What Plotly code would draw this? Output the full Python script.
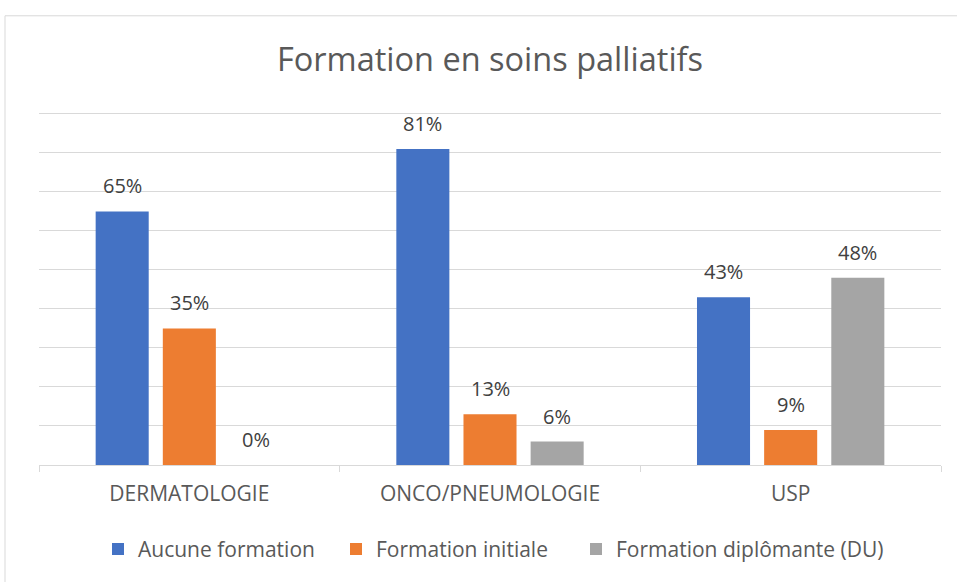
import plotly.graph_objects as go

categories = ["DERMATOLOGIE", "ONCO/PNEUMOLOGIE", "USP"]
series_names = ["Aucune formation", "Formation initiale", "Formation diplômante (DU)"]
aucune = [65, 81, 43]
initiale = [35, 13, 9]
diplomante = [0, 6, 48]
labels_aucune = ["65%", "81%", "43%"]
labels_initiale = ["35%", "13%", "9%"]
labels_diplomante = ["0%", "6%", "48%"]
colors = ["#4472C4", "#ED7D31", "#A5A5A5"]

W, H = 957, 582
ML, MR, MT, MB = 39, 16, 110, 114
BARGAP = 0.33
BARGROUPGAP = 0.21
FONT = "Open Sans"
LEGEND_LEFT_PX = [98, 336, 576]

series_vals = [aucune, initiale, diplomante]
series_labels = [labels_aucune, labels_initiale, labels_diplomante]
legend_ids = ["legend", "legend2", "legend3"]

plot_w = W - ML - MR
plot_h = H - MT - MB

fig = go.Figure()
for name, vals, col, lid in zip(series_names, series_vals, colors, legend_ids):
    fig.add_trace(go.Bar(x=categories, y=vals, name=name, legend=lid, showlegend=True,
                         marker=dict(color=col, line=dict(width=0))))

# data labels above bars, positioned through the axes
slot = plot_w / len(categories) * (1 - BARGAP) / len(series_vals)
annotations = []
for si, (vals, labs) in enumerate(zip(series_vals, series_labels)):
    for c, v, t in zip(categories, vals, labs):
        annotations.append(dict(
            x=c, y=v, xref="x", yref="y", text=t, showarrow=False,
            xanchor="center", yanchor="bottom",
            xshift=(si - 1) * slot, yshift=10,
            font=dict(family=FONT, size=20, color="#404040"),
        ))

legend_y = -(553 - (H - MB)) / plot_h
legends = {}
for lid, px in zip(legend_ids, LEGEND_LEFT_PX):
    legends[lid] = dict(orientation="h", x=(px - ML) / plot_w, xanchor="left", y=legend_y,
                        yanchor="middle", font=dict(family=FONT, size=21, color="#595959"),
                        itemwidth=30, bgcolor="rgba(0,0,0,0)", visible=True)

fig.update_layout(
    width=W, height=H,
    showlegend=True,
    margin=dict(l=ML, r=MR, t=MT, b=MB),
    paper_bgcolor="white", plot_bgcolor="white",
    barmode="group", bargap=BARGAP, bargroupgap=BARGROUPGAP,
    title=dict(text="Formation en soins palliatifs", x=0.5, xref="paper", xanchor="center",
               y=1 - 60 / H, yanchor="middle",
               font=dict(family=FONT, size=32.5, color="#595959")),
    font=dict(family=FONT, size=21, color="#595959"),
    xaxis=dict(showline=True, linecolor="#D9D9D9", linewidth=1, ticks="outside",
               tickson="boundaries", ticklen=6, tickcolor="#D9D9D9", showgrid=False,
               ticklabelstandoff=10,
               tickfont=dict(family=FONT, size=21, color="#595959")),
    yaxis=dict(range=[0, 91], tick0=0, dtick=10, showgrid=True, gridcolor="#D9D9D9", gridwidth=1,
               showticklabels=False, zeroline=False, showline=False),
    annotations=annotations,
    shapes=[dict(type="rect", xref="paper", yref="paper",
                 x0=(5 - ML) / plot_w, x1=(970 - ML) / plot_w,
                 y0=-(600 - (H - MB)) / plot_h, y1=((H - MB) - 15) / plot_h,
                 line=dict(color="#D9D9D9", width=1), fillcolor="rgba(0,0,0,0)", layer="below")],
    **legends,
)

fig.write_html("out.html", config={"displayModeBar": False},
               post_script="document.body.style.margin='0';document.body.style.overflow='hidden';")
